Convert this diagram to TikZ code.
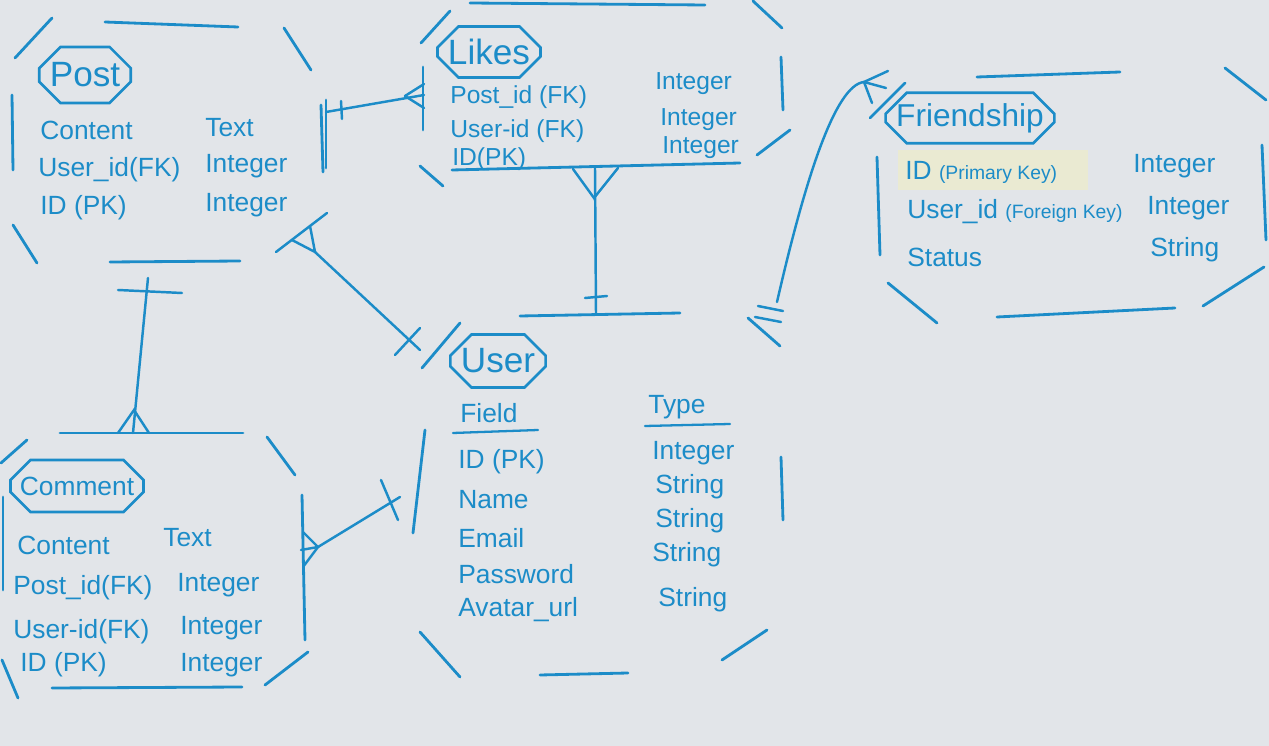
\documentclass[tikz,border=0pt]{standalone}
\usepackage{fontspec}
\setmainfont{Liberation Sans}
\usetikzlibrary{shapes.misc}
\definecolor{ink}{RGB}{28,140,200}
\definecolor{paper}{RGB}{226,229,233}
\definecolor{tape}{RGB}{234,234,210}
\tikzset{
  frame/.style={draw=ink, line width=1.6pt},
  link/.style={draw=ink, line width=1.4pt},
  titlebox/.style={chamfered rectangle, chamfered rectangle xsep=6pt, chamfered rectangle ysep=6pt,
    draw=ink, line width=1.5pt, text=ink, inner sep=0pt, font=\fontsize{20}{24}\selectfont},
  attr/.style={text=ink, anchor=west, inner sep=0pt, font=\fontsize{15}{18}\selectfont},
  likesattr/.style={attr, font=\fontsize{14}{17}\selectfont}
}
\begin{document}
\begin{tikzpicture}[x=0.02cm, y=-0.02cm, line cap=round]
  % 0. 纸面背景
  \fill[paper] (0,0) rectangle (1269,746);
  \useasboundingbox (0,0) rectangle (1269,746);
  \fill[tape] (898,150) rectangle (1088,190);

  % 1. 实体外框 (断开的八边形)
  % Post
  \draw[frame] (15,58) -- (52,18);   \draw[frame] (105,22) -- (238,27);
  \draw[frame] (284,28) -- (311,70); \draw[frame] (12,95) -- (13,170);
  \draw[frame] (321,105) -- (323,172); \draw[frame] (326,100) -- (326,168);
  \draw[frame] (13,225) -- (37,263); \draw[frame] (110,262) -- (240,261);
  % Likes
  \draw[frame] (421,43) -- (450,11); \draw[frame] (470,3) -- (705,5);
  \draw[frame] (753,1) -- (782,28);  \draw[frame] (423,67) -- (423,130);
  \draw[frame] (781,57) -- (783,110); \draw[frame] (420,166) -- (443,186);
  \draw[frame] (452,170) -- (740,163); \draw[frame] (757,155) -- (790,130);
  % User
  \draw[frame] (422,368) -- (460,323); \draw[frame] (520,316) -- (680,313);
  \draw[frame] (748,318) -- (780,346); \draw[frame] (425,430) -- (413,533);
  \draw[frame] (781,457) -- (783,520); \draw[frame] (420,632) -- (460,677);
  \draw[frame] (540,675) -- (628,673); \draw[frame] (722,660) -- (767,630);
  % Friendship
  \draw[frame] (870,118) -- (905,83);  \draw[frame] (977,77) -- (1120,72);
  \draw[frame] (1225,68) -- (1266,100); \draw[frame] (877,157) -- (880,255);
  \draw[frame] (1262,145) -- (1266,240); \draw[frame] (888,283) -- (937,323);
  \draw[frame] (997,317) -- (1175,308); \draw[frame] (1203,306) -- (1264,267);
  % Comment
  \draw[frame] (1,463) -- (27,440);   \draw[frame] (60,433) -- (243,433);
  \draw[frame] (267,437) -- (295,475); \draw[frame] (3,497) -- (3,590);
  \draw[frame] (302,495) -- (305,640); \draw[frame] (2,660) -- (18,698);
  \draw[frame] (52,688) -- (242,687);  \draw[frame] (265,685) -- (308,652);

  % 2. 实体名称
  \node[titlebox, minimum width=1.72cm, minimum height=1.12cm] (postT) at (85,75) {Post};
  \node[titlebox, minimum width=2.04cm, minimum height=1.02cm] (likesT) at (489,52) {Likes};
  \node[titlebox, minimum width=1.8cm, minimum height=1.06cm] (userT) at (498,361) {User};
  \node[titlebox, minimum width=3.28cm, minimum height=0.94cm, font=\fontsize{18}{22}\selectfont] (friendT) at (970,118) {Friendship};
  \node[titlebox, minimum width=2.5cm, minimum height=1.04cm, font=\fontsize{15}{18}\selectfont] (commentT) at (77,486) {Comment};

  % 3. 字段与类型
  % Post
  \node[attr] (post1) at (40,130) {Content};      \node[attr] (post1t) at (205,128) {Text};
  \node[attr] (post2) at (38,170) {User\_id(FK)};  \node[attr] (post2t) at (205,166) {Integer};
  \node[attr] (post3) at (40,208) {ID (PK)};      \node[attr] (post3t) at (205,205) {Integer};
  % Likes
  \node[likesattr] (likes1) at (450,97) {Post\_id (FK)}; \node[likesattr] (likes1t) at (655,84) {Integer};
  \node[likesattr] (likes2) at (450,131) {User-id (FK)}; \node[likesattr] (likes2t) at (660,120) {Integer};
  \node[likesattr] (likes3) at (452,159) {ID(PK)};       \node[likesattr] (likes3t) at (662,148) {Integer};
  % Friendship
  \node[attr] (fr1) at (905,172) {ID {\fontsize{11}{13}\selectfont(Primary Key)}}; \node[attr] (fr1t) at (1133,166) {Integer};
  \node[attr] (fr2) at (907,212) {User\_id {\fontsize{11}{13}\selectfont(Foreign Key)}}; \node[attr] (fr2t) at (1147,208) {Integer};
  \node[attr] (fr3) at (907,257) {Status};        \node[attr] (fr3t) at (1150,250) {String};
  % User
  \node[attr] (userF) at (460,413) {Field};        \node[attr] (userY) at (648,407) {Type};
  \draw[frame, line width=1.3pt] (453,433) -- (538,430);
  \draw[frame, line width=1.3pt] (645,426) -- (730,424);
  \node[attr] (user1) at (458,462) {ID (PK)};     \node[attr] (user1t) at (652,453) {Integer};
  \node[attr] (user2) at (458,500) {Name};        \node[attr] (user2t) at (655,487) {String};
  \node[attr] (user3) at (458,538) {Email};       \node[attr] (user3t) at (655,521) {String};
  \node[attr] (user4) at (458,574) {Password};    \node[attr] (user4t) at (652,555) {String};
  \node[attr] (user5) at (458,610) {Avatar\_url}; \node[attr] (user5t) at (658,600) {String};
  % Comment
  \node[attr] (com1) at (17,545) {Content};       \node[attr] (com1t) at (163,538) {Text};
  \node[attr] (com2) at (13,588) {Post\_id(FK)};   \node[attr] (com2t) at (177,585) {Integer};
  \node[attr] (com3) at (13,632) {User-id(FK)};   \node[attr] (com3t) at (180,628) {Integer};
  \node[attr] (com4) at (20,665) {ID (PK)};       \node[attr] (com4t) at (180,665) {Integer};

  % 4. 关系连线 (一端竖线, 多端鸦爪)
  % Post -- Likes
  \coordinate (plA) at (326,112); \coordinate (plV) at (405,96); \coordinate (plB) at (424,95);
  \draw[link] (plA) -- (plB);
  \draw[link] (341,101) -- (342,119);
  \draw[link] (plV) -- (424,84); \draw[link] (plV) -- (424,108);
  % Likes -- User
  \coordinate (luA) at (595,168); \coordinate (luV) at (594,198); \coordinate (luB) at (596,314);
  \draw[link] (luA) -- (luB);
  \draw[link] (573,169) -- (luV) -- (618,168);
  \draw[link] (585,298) -- (607,296);
  % Post -- User
  \coordinate (puV) at (315,252); \coordinate (puB) at (420,350);
  \draw[link] (276,252) -- (327,213);
  \draw[link] (puV) -- (puB);
  \draw[link] (292,240) -- (puV) -- (310,226);
  \draw[link] (395,355) -- (420,328);
  % Post -- Comment
  \coordinate (pcA) at (148,278); \coordinate (pcV) at (134,410); \coordinate (pcB) at (133,433);
  \draw[link] (pcA) -- (pcB);
  \draw[link] (118,290) -- (182,293);
  \draw[link] (118,433) -- (pcV) -- (149,433);
  % Comment -- User
  \coordinate (cuV) at (318,547); \coordinate (cuB) at (400,497);
  \draw[link] (cuV) -- (cuB);
  \draw[link] (303,532) -- (cuV) -- (303,567);
  \draw[link] (301,550) -- (cuV);
  \draw[link] (381,480) -- (398,520);
  % User -- Friendship
  \coordinate (ufA) at (777,302); \coordinate (ufB) at (864,82);
  \draw[link] (ufA) .. controls (805,180) and (835,85) .. (ufB);
  \draw[link] (ufB) -- (888,71); \draw[link] (ufB) -- (872,103); \draw[link] (ufB) -- (886,88);
  \draw[link] (758,306) -- (783,311);
  \draw[link] (755,317) -- (781,322);
\end{tikzpicture}
\end{document}
